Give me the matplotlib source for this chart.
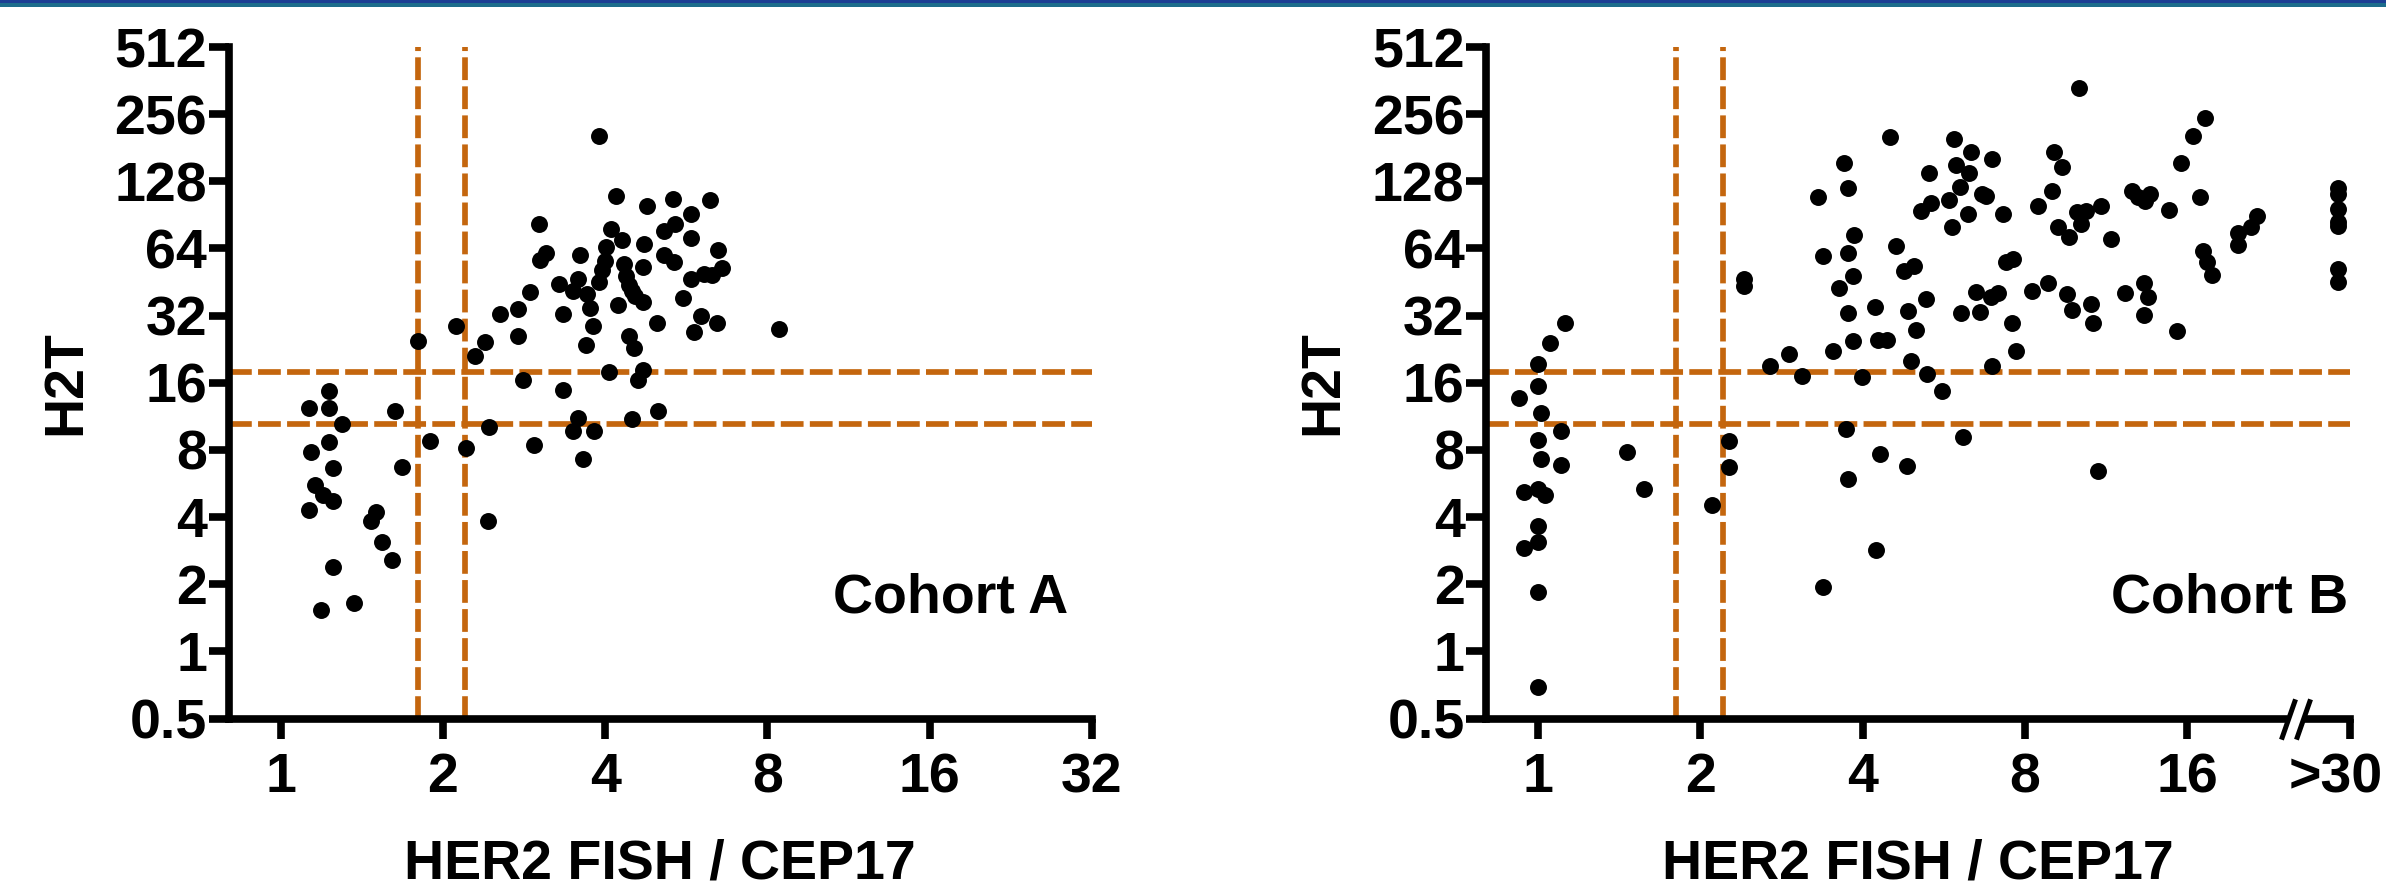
import matplotlib
matplotlib.use('Agg')
import matplotlib.pyplot as plt
from matplotlib.patches import Rectangle
from matplotlib.ticker import NullLocator
from matplotlib.transforms import ScaledTranslation

# ---------------- data ----------------
y_ticks = [0.5, 1, 2, 4, 8, 16, 32, 64, 128, 256, 512]
y_tick_labels = ['0.5', '1', '2', '4', '8', '16', '32', '64', '128', '256', '512']
x_ticks = [1, 2, 4, 8, 16, 32]
x_tick_labels_a = ['1', '2', '4', '8', '16', '32']
x_tick_labels_b = ['1', '2', '4', '8', '16', '>30']

fish_cutoffs = [1.8, 2.2]
h2t_cutoffs = [10.5, 17.8]

a_x = [3.89, 4.19, 5.34, 6.27, 4.78, 5.78, 3.02, 5.39, 4.10, 5.15,
       5.78, 4.30, 4.73, 4.02, 6.48, 3.10, 3.59, 3.03, 5.15, 5.36,
       3.99, 4.33, 4.70, 3.94, 6.59, 4.37, 6.11, 6.31, 5.78, 3.89,
       3.29, 3.56, 3.48, 4.43, 4.49, 2.90, 3.70, 4.55, 4.70, 5.57,
       4.22, 3.74, 2.76, 3.34, 2.55, 6.01, 4.99, 6.44, 3.80, 2.11,
       8.40, 5.84, 2.75, 4.43, 1.80, 2.39, 3.68, 4.53, 2.29, 4.07,
       4.70, 2.81, 4.61, 1.23, 3.34, 1.13, 1.23, 1.63, 5.02, 4.49,
       1.30, 3.56, 2.43, 3.48, 3.81, 1.23, 1.89, 2.95, 2.21, 1.14,
       3.64, 1.68, 1.25, 1.16, 1.20, 1.25, 1.13, 1.50, 1.47, 2.42,
       1.54, 1.61, 1.25, 1.37, 1.19]
a_y = [204, 110, 107, 105, 99, 91, 82, 82, 78, 77,
       71, 70, 67, 65, 63, 61, 60, 57, 60, 55.5,
       56.5, 54.6, 53, 51, 52.4, 48, 49.4, 48.5, 46.8, 45.2,
       44.4, 46.6, 41.4, 43.9, 41.4, 40.9, 39.8, 39.1, 36.8, 38.2,
       35.8, 34.7, 34.1, 32.6, 32.4, 31.8, 29.7, 29.7, 28.8, 28.6,
       27.8, 27.0, 25.9, 25.9, 24.7, 24.4, 23.7, 22.8, 21.0, 17.9,
       18.2, 16.5, 16.5, 14.7, 14.8, 12.3, 12.3, 11.9, 11.95, 11.0,
       10.5, 11.1, 10.1, 9.7, 9.7, 8.7, 8.76, 8.4, 8.2, 7.83,
       7.3, 6.69, 6.65, 5.54, 5.02, 4.73, 4.31, 4.21, 3.83, 3.85,
       3.10, 2.56, 2.38, 1.65, 1.53]

b_x = [10.06, 17.25, 4.50, 5.90, 16.39, 6.36, 9.07, 3.69, 6.96, 5.96,
       15.57, 9.37, 5.30, 6.29, 6.06, 3.76, 8.98, 6.78, 6.65, 12.61,
       12.94, 13.63, 13.37, 3.30, 5.77, 5.35, 16.87, 30.5, 30.5, 8.45,
       11.08, 14.83, 5.13, 6.27, 7.28, 9.99, 10.39, 21.57, 30.5, 10.16,
       5.86, 9.22, 21.02, 30.5, 30.5, 19.89, 3.86, 9.64, 11.56, 19.89,
       4.62, 3.37, 3.75, 17.09, 7.59, 7.37, 17.42, 4.97, 4.77, 30.5,
       17.76, 3.84, 2.41, 2.41, 30.5, 8.81, 3.62, 8.23, 13.32, 6.48,
       7.12, 9.58, 12.29, 6.91, 13.54, 5.24, 10.59, 4.22, 4.86, 3.75,
       6.09, 6.59, 9.77, 13.28, 7.57, 10.70, 1.12, 5.02, 15.32, 1.05,
       3.84, 4.27, 4.43, 3.52, 7.71, 2.92, 2.69, 1.0, 4.91, 6.94,
       3.09, 5.27, 3.99, 1.0, 5.62, 0.92, 1.01, 3.73, 1.10, 2.26,
       6.15, 1.0, 1.46, 4.30, 1.01, 1.10, 2.26, 4.84, 10.91, 1.57,
       3.76, 0.94, 1.0, 1.03, 2.10, 1.0, 0.94, 1.0, 4.23, 1.0, 3.38, 1.0]
b_y = [336, 245, 202, 198, 204, 174, 174, 155, 161, 151,
       155, 148, 140, 139.5, 120.5, 119, 115.6, 110, 112, 115.6,
       109, 112, 104, 109, 106, 102.8, 109, 119, 112, 98.7,
       98.7, 95.3, 94.2, 90.9, 91.4, 93, 94.2, 89.8, 95.8, 82.3,
       79.9, 79.9, 79.9, 83.7, 80.3, 75.3, 73.6, 72.3, 70.2, 66.2,
       65.4, 58.9, 61.3, 62.4, 57.2, 55.9, 55.5, 53.6, 50.9, 51.8,
       48.8, 48.0, 46.6, 43.4, 45.2, 45.0, 42.7, 41.4, 44.7, 40.7,
       40.2, 39.8, 40.2, 38.6, 38.6, 37.9, 36.2, 35.1, 33.5, 32.8,
       32.8, 33.2, 33.9, 32.2, 29.5, 29.7, 29.8, 27.5, 27.2, 24.0,
       24.7, 24.9, 24.9, 22.1, 22.2, 21.5, 19.1, 19.4, 20.0, 19.0,
       17.2, 17.5, 17.0, 15.5, 14.7, 13.7, 11.7, 9.96, 9.68, 8.76,
       9.18, 8.86, 7.83, 7.70, 7.30, 6.88, 6.73, 6.80, 6.42, 5.32,
       5.95, 5.17, 5.32, 5.02, 4.51, 3.63, 2.91, 3.08, 2.84, 1.84, 1.94, 0.69]

# ---------------- style ----------------
plt.rcParams['font.family'] = ['Liberation Sans', 'DejaVu Sans']
plt.rcParams['font.weight'] = 'bold'

ORANGE = '#c4660e'
FS = 40
AXLW = 5.5

fig = plt.figure(figsize=(23.86, 8.93), dpi=100)
W, H = 2386.0, 893.0

# top banner
fig.add_artist(Rectangle((0, 1 - 7 / H), 1, 7 / H, transform=fig.transFigure,
                         facecolor='#1d6d8c', edgecolor='none'))
fig.add_artist(Rectangle((0, 1 - 2.5 / H), 1, 2.5 / H, transform=fig.transFigure,
                         facecolor='#1c3e94', edgecolor='none'))

ax_h = 671.5 / H
ax_w = 863.5 / W
ax_b = (H - 718.5) / H
axA = fig.add_axes([228.5 / W, ax_b, ax_w, ax_h])
axB = fig.add_axes([1486.0 / W, ax_b, ax_w, ax_h])


def style(ax, xs, ys, xlabels):
    ax.set_xscale('log', base=2)
    ax.set_yscale('log', base=2)
    ax.set_xlim(0.8, 32)
    ax.set_ylim(0.5, 512)
    ax.set_xticks(x_ticks)
    ax.set_xticklabels(xlabels)
    ax.set_yticks(y_ticks)
    ax.set_yticklabels(y_tick_labels)
    ax.xaxis.set_minor_locator(NullLocator())
    ax.yaxis.set_minor_locator(NullLocator())
    ax.tick_params(axis='both', direction='out', length=14.4, width=AXLW,
                   labelsize=FS, colors='black')
    ax.tick_params(axis='x', pad=10)
    ax.tick_params(axis='y', pad=1)
    for lab in ax.get_xticklabels() + ax.get_yticklabels():
        lab.set_fontweight('bold')
    for s in ['top', 'right']:
        ax.spines[s].set_visible(False)
    for s in ['left', 'bottom']:
        ax.spines[s].set_linewidth(AXLW)
        ax.spines[s].set_capstyle('projecting')
    ax.patch.set_alpha(0)

    for v in fish_cutoffs:
        ax.axvline(v, color=ORANGE, lw=4.1, dashes=(4.0, 1.1), zorder=1)
    for v in h2t_cutoffs:
        ax.axhline(v, color=ORANGE, lw=4.1, dashes=(4.0, 1.1), zorder=1)

    ax.plot(xs, ys, ls='none', marker='o', markersize=12.2, color='black',
            markeredgewidth=0, zorder=3, clip_on=False)

    ax.set_xlabel('HER2 FISH / CEP17', fontsize=FS, fontweight='bold')
    ax.set_ylabel('H2T', fontsize=FS, fontweight='bold')
    ax.xaxis.set_label_coords(0.5, -0.178)
    ax.yaxis.set_label_coords(-0.158, 0.5)
    return ax


style(axA, a_x, a_y, x_tick_labels_a)
style(axB, b_x, b_y, x_tick_labels_b)

axA.text(0.972, 0.158, 'Cohort A', transform=axA.transAxes, ha='right',
         va='baseline', fontsize=FS, fontweight='bold')
axB.text(0.998, 0.158, 'Cohort B', transform=axB.transAxes, ha='right',
         va='baseline', fontsize=FS, fontweight='bold')

# axis break on the right panel
axB.spines['bottom'].set_bounds(0.8, 24.2)
axB.plot([26.7, 32], [0, 0], transform=axB.get_xaxis_transform(), color='black',
         lw=AXLW, solid_capstyle='projecting', clip_on=False, zorder=4)
axB.plot([24.6, 26.2], [0, 0], transform=axB.get_xaxis_transform(), ls='none',
         marker=[(-0.35, -1), (0.35, 1)], markersize=29, markeredgewidth=3.6,
         color='black', clip_on=False, zorder=5)

# the ">30" label sits slightly left of its tick, as in the original
last_lab = axB.xaxis.get_major_ticks()[-1].label1
last_lab.set_transform(last_lab.get_transform() +
                       ScaledTranslation(-14 / 100.0, 0, fig.dpi_scale_trans))

fig.savefig('out.png', dpi=100, facecolor='white')
